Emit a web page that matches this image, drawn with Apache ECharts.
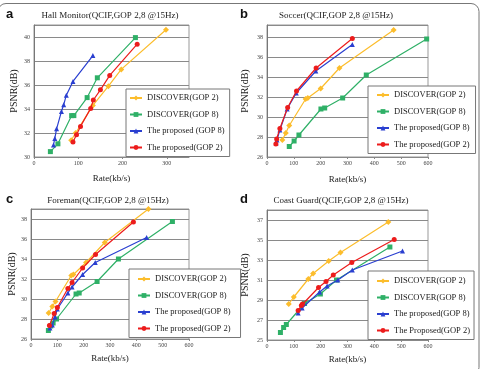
<!DOCTYPE html>
<html>
<head>
<meta charset="utf-8">
<script src="https://cdn.jsdelivr.net/npm/echarts@6/dist/echarts.min.js"></script>
</head>
<body style="margin:0">
<div id="container" style="width:482px;height:369px"></div>
<script>
// rate (kb/s), PSNR (dB)
var hallDiscover2 = [[84, 31.4], [94, 32.0], [133, 34.3], [168, 35.9], [197, 37.3], [298, 40.6]];
var hallDiscover8 = [[37, 30.45], [54, 31.1], [85, 33.45], [90, 33.45], [120, 34.95], [143, 36.6], [229, 39.95]];
var hallProposed8 = [[44, 31.0], [47, 31.55], [51, 32.35], [62, 33.8], [67, 34.35], [73, 35.15], [88, 36.3], [133, 38.45]];
var hallProposed2 = [[88, 31.25], [96, 31.85], [105, 32.55], [128, 34.05], [134, 34.75], [150, 35.6], [171, 36.8], [233, 39.4]];

var soccerDiscover2 = [[57, 27.7], [70, 28.4], [83, 29.15], [144, 31.8], [152, 31.9], [200, 32.85], [270, 34.9], [472, 38.7]];
var soccerDiscover8 = [[83, 27.05], [101, 27.6], [119, 28.2], [201, 30.8], [215, 30.9], [282, 31.9], [370, 34.2], [595, 37.8]];
var soccerProposed8 = [[34, 27.4], [37, 27.7], [48, 28.7], [75, 30.8], [109, 32.4], [182, 34.6], [318, 37.25]];
var soccerProposed2 = [[33, 27.3], [36, 27.8], [48, 28.85], [77, 30.95], [110, 32.6], [183, 34.9], [318, 37.85]];

var foremanDiscover2 = [[67, 28.6], [81, 29.25], [93, 29.75], [153, 32.35], [161, 32.45], [209, 33.65], [280, 35.65], [446, 39.0]];
var foremanDiscover8 = [[66, 26.85], [75, 27.3], [84, 27.6], [97, 28.0], [171, 30.5], [183, 30.6], [251, 31.75], [332, 34.0], [537, 37.75]];
var foremanProposed8 = [[72, 27.1], [81, 27.4], [91, 28.2], [100, 29.0], [140, 30.6], [156, 31.2], [196, 32.45], [244, 33.65], [439, 36.15]];
var foremanProposed2 = [[70, 27.35], [88, 28.55], [100, 29.15], [140, 31.05], [156, 31.65], [196, 33.1], [245, 34.45], [389, 37.7]];

var coastDiscover2 = [[81, 28.6], [100, 29.3], [154, 31.1], [172, 31.65], [230, 32.9], [274, 33.75], [452, 36.8]];
var coastDiscover8 = [[50, 25.75], [62, 26.25], [72, 26.55], [140, 28.65], [199, 29.6], [259, 31.0], [458, 34.3]];
var coastProposed8 = [[116, 27.7], [131, 28.2], [196, 29.8], [224, 30.4], [264, 31.0], [318, 32.0], [505, 33.9]];
var coastProposed2 = [[116, 27.95], [128, 28.45], [132, 28.6], [192, 30.25], [220, 30.85], [247, 31.5], [316, 32.75], [474, 35.05]];

var titles = ['Hall Monitor(QCIF,GOP 2,8 @15Hz)', 'Soccer(QCIF,GOP 2,8 @15Hz)',
    'Foreman(QCIF,GOP 2,8 @15Hz)', 'Coast Guard(QCIF,GOP 2,8 @15Hz)'];
var letters = ['a', 'b', 'c', 'd'];
var legendNames = [
    ['DISCOVER(GOP 2)', 'DISCOVER(GOP 8)', 'The proposed (GOP 8)', 'The proposed(GOP 2)'],
    ['DISCOVER(GOP 2)', 'DISCOVER(GOP 8)', 'The proposed(GOP 8)', 'The proposed(GOP 2)'],
    ['DISCOVER(GOP 2)', 'DISCOVER(GOP 8)', 'The proposed(GOP 8)', 'The proposed(GOP 2)'],
    ['DISCOVER(GOP 2)', 'DISCOVER(GOP 8)', 'The proposed(GOP 8)', 'The Proposed(GOP 2)']
];
var panelData = [
    [hallDiscover2, hallDiscover8, hallProposed8, hallProposed2],
    [soccerDiscover2, soccerDiscover8, soccerProposed8, soccerProposed2],
    [foremanDiscover2, foremanDiscover8, foremanProposed8, foremanProposed2],
    [coastDiscover2, coastDiscover8, coastProposed8, coastProposed2]
];
// [min, max, interval]
var xRanges = [[0, 350, 100], [0, 600, 100], [0, 600, 100], [0, 600, 100]];
var yRanges = [[30, 41, 2], [26, 39.2, 2], [26, 39, 2], [25, 38, 2]];

var colors = ['#fcbd2c', '#2fb067', '#2a3fd0', '#ec1c1c'];
var symbols = ['diamond', 'rect', 'triangle', 'circle'];

var layout = [
    {grid: {left: 34, top: 25, width: 155, height: 132}, titleX: 110, titleY: 11, letterX: 6, letterY: 8,
        legend: {left: 126, top: 89}, legendPad: [4, 5, 4, 3], yGap: 15, xGap: 17},
    {grid: {left: 267, top: 25, width: 161, height: 132}, titleX: 336, titleY: 11, letterX: 240, letterY: 8,
        legend: {left: 368, top: 86}, legendPad: [4, 6, 4, 8], yGap: 17, xGap: 18},
    {grid: {left: 31, top: 209, width: 158, height: 130}, titleX: 108, titleY: 196, letterX: 6, letterY: 193,
        legend: {left: 129, top: 269}, legendPad: [5, 10, 4, 8], yGap: 13, xGap: 15},
    {grid: {left: 267, top: 210, width: 161, height: 130}, titleX: 341, titleY: 196, letterX: 240, letterY: 193,
        legend: {left: 368, top: 271}, legendPad: [5, 4, 4, 8], yGap: 17, xGap: 15}
];

var serif = 'Liberation Serif';
var dom = document.getElementById('container');
var myChart = echarts.init(dom);

var option = {
    backgroundColor: '#fff',
    animation: false,
    title: [],
    grid: [],
    xAxis: [],
    yAxis: [],
    legend: [],
    series: [],
    graphic: [{
        type: 'rect',
        shape: {x: -2, y: 3.5, width: 481, height: 372, r: 8},
        style: {fill: 'none', stroke: '#777', lineWidth: 1},
        silent: true
    }]
};

for (var p = 0; p < 4; p++) {
    var L = layout[p];
    option.title.push({
        text: titles[p], left: L.titleX, top: L.titleY, textAlign: 'center', padding: 0,
        textStyle: {fontFamily: serif, fontSize: 9, fontWeight: 'normal', color: '#222'}
    });
    option.title.push({
        text: letters[p], left: L.letterX, top: L.letterY, padding: 0,
        textStyle: {fontFamily: 'Liberation Sans', fontSize: 13, fontWeight: 'bold', color: '#111'}
    });
    option.grid.push(Object.assign({show: true, borderColor: '#999', borderWidth: 1, backgroundColor: '#fff'}, L.grid));
    option.xAxis.push({
        type: 'value', gridIndex: p,
        min: xRanges[p][0], max: xRanges[p][1], interval: xRanges[p][2],
        name: 'Rate(kb/s)', nameLocation: 'middle', nameGap: L.xGap,
        nameTextStyle: {fontFamily: serif, fontSize: 9, color: '#222'},
        axisLine: {lineStyle: {color: '#888'}},
        axisTick: {show: true, length: 2, lineStyle: {color: '#888'}},
        splitLine: {show: false},
        axisLabel: {fontFamily: serif, fontSize: 6, color: '#444', margin: 3,
            showMaxLabel: xRanges[p][1] % xRanges[p][2] === 0}
    });
    option.yAxis.push({
        type: 'value', gridIndex: p,
        min: yRanges[p][0], max: yRanges[p][1], interval: yRanges[p][2],
        name: 'PSNR(dB)', nameLocation: 'middle', nameGap: L.yGap,
        nameTextStyle: {fontFamily: serif, fontSize: 10, color: '#222'},
        axisLine: {show: true, lineStyle: {color: '#777'}},
        axisTick: {show: false},
        splitLine: {show: true, lineStyle: {color: '#8a8a8a', width: 1}},
        axisLabel: {fontFamily: serif, fontSize: 6, color: '#444', margin: 4, showMaxLabel: false}
    });
    option.legend.push({
        left: L.legend.left, top: L.legend.top, orient: 'vertical',
        padding: L.legendPad, itemGap: 6.5, itemWidth: 12, itemHeight: 6,
        backgroundColor: '#fff', borderColor: '#777', borderWidth: 1,
        textStyle: {fontFamily: serif, fontSize: 8.5, color: '#222', lineHeight: 10},
        data: legendNames[p]
    });
    for (var s = 0; s < 4; s++) {
        option.series.push({
            type: 'line',
            name: legendNames[p][s],
            xAxisIndex: p, yAxisIndex: p,
            data: panelData[p][s],
            color: colors[s],
            symbol: symbols[s],
            symbolSize: s === 0 ? 6 : 5,
            lineStyle: {width: 1.2},
            z: 2 + s
        });
    }
}

myChart.setOption(option);
</script>
</body>
</html>
